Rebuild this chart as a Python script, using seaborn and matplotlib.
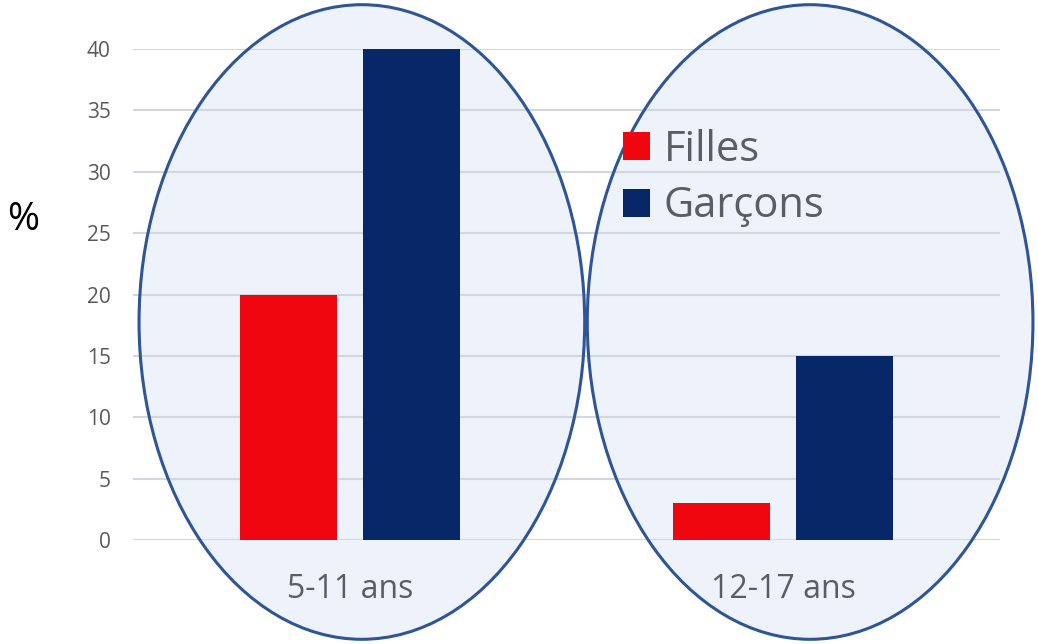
import pandas as pd
import seaborn as sns
import matplotlib.pyplot as plt
from matplotlib.patches import Ellipse

# données du graphique
groupes = ["5-11 ans", "12-17 ans"]
sexes = ["Filles", "Garçons"]
filles = [20, 3]
garcons = [40, 15]

df = pd.DataFrame({
    "groupe": groupes * 2,
    "sexe": [sexes[0]] * 2 + [sexes[1]] * 2,
    "pct": filles + garcons,
})

sns.set_theme(style="white")
plt.rcParams["font.family"] = ["Open Sans", "DejaVu Sans"]

fig = plt.figure(figsize=(10.38, 6.44), dpi=100)
ax = fig.add_axes([0.1281, 0.1615, 0.8353, 0.7624])

sns.barplot(data=df, x="groupe", y="pct", hue="sexe", order=groupes,
            hue_order=sexes, palette=["#f0060f", "#072768"],
            width=0.567, gap=0.21, saturation=1, linewidth=0,
            ax=ax, zorder=3)

# ellipses autour de chaque groupe
for cx in [0.028, 1.062]:
    ax.add_patch(Ellipse((cx, 17.76), 1.028, 51.7, facecolor="#eef2fa",
                         edgecolor="none", zorder=0.2, clip_on=False))
    ax.add_patch(Ellipse((cx, 17.76), 1.028, 51.7, facecolor="none",
                         edgecolor="#2f5597", lw=2.2, zorder=1.8, clip_on=False))

ax.set_xlim(-0.5, 1.5)
ax.set_ylim(0, 40)
ax.set_yticks(range(0, 41, 5))
ax.yaxis.grid(True, color="#d3d6dc", lw=1.5, zorder=1)
ax.set_axisbelow("line")
sns.despine(ax=ax, left=True, bottom=True)
ax.tick_params(axis="y", length=0, pad=16, labelsize=15, labelcolor="#595959")
ax.tick_params(axis="x", length=0, pad=24, labelsize=23, labelcolor="#595d66")
ax.set_xlabel("")
ax.set_ylabel("")
fig.text(0.022, 0.658, "%", fontsize=28, color="black", ha="center", va="center")

ax.legend(loc="upper left", bbox_to_anchor=(0.6, 0.8),
          bbox_transform=fig.transFigure, frameon=False, fontsize=30,
          handlelength=0.65, handleheight=0.65, handletextpad=0.33,
          labelspacing=0.35, borderpad=0, borderaxespad=0,
          labelcolor="#595d66")

fig.savefig("out.png", dpi=100)
